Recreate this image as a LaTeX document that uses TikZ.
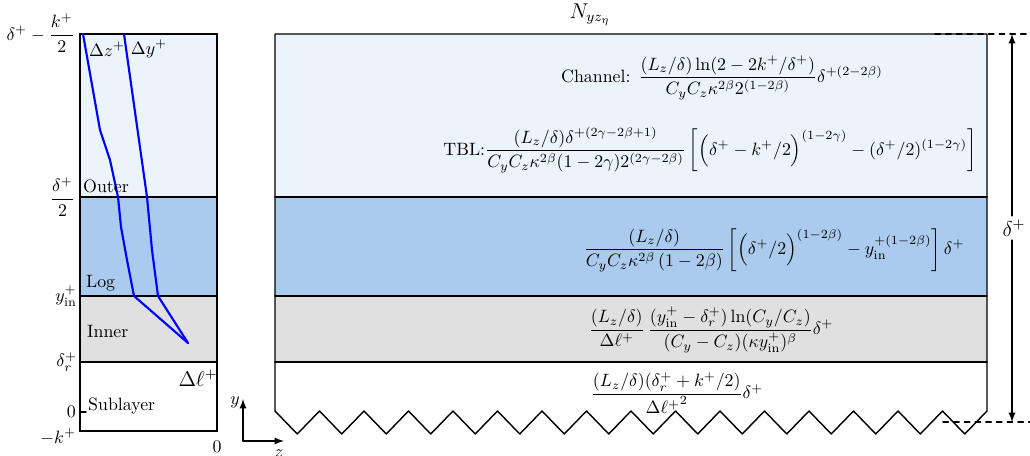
\documentclass[tikz,border=0pt]{standalone}
\usepackage{amsmath}
\begin{document}
\begin{tikzpicture}[x=0.56pt, y=-0.56pt, >=latex, line cap=round]
  \definecolor{outerblue}{HTML}{EBF3FB}
  \definecolor{logblue}{HTML}{AACBED}
  \definecolor{innergray}{HTML}{E0E0E0}
  \tikzset{region/.style={anchor=west, inner sep=1pt},
    ylabel/.style={anchor=east, inner sep=1pt},
    formula/.style={inner sep=1pt}}
  \useasboundingbox (0,0) rectangle (1030,456);
  % left panel: layers in wall units
  \fill[outerblue] (80,34) rectangle (217,197);
  \fill[logblue] (80,197) rectangle (217,296);
  \fill[innergray] (80,296) rectangle (217,362);
  \draw[thick] (80,34) rectangle (217,431);
  \foreach \y in {197,296,362} \draw[thick] (80,\y) -- (217,\y);
  \draw[thick] (80,412) -- (86,412);
  \draw[blue, very thick, line join=round] (83,34) -- (100,130) -- (110,160) -- (118,197) -- (121,227) -- (127,260) -- (134,296) -- (188,343);
  \draw[blue, very thick, line join=round] (124,34) -- (147,197) -- (152,250) -- (158,296) -- (188,343);
  \node (dz) at (107,49) {$\Delta z^+$};
  \node (dy) at (149,49) {$\Delta y^+$};
  \node[font=\large] (dl) at (198,378) {$\Delta\ell^+$};
  \node[region] (outer) at (81,186) {Outer};
  \node[region] (log) at (84,283) {Log};
  \node[region] (inner) at (85,332) {Inner};
  \node[region] (sub) at (86,406) {Sublayer};
  \node[ylabel] (ytop) at (77,33) {$\delta^+-\dfrac{k^+}{2}$};
  \node[ylabel] (yhalf) at (77,197) {$\dfrac{\delta^+}{2}$};
  \node[ylabel] (yin) at (79,296) {$y_{\mathrm{in}}^+$};
  \node[ylabel] (yr) at (79,362) {$\delta_r^+$};
  \node[ylabel] (yzero) at (78,412) {$0$};
  \node[ylabel] (ybot) at (78,437) {$-k^+$};
  \node (zzero) at (217,447) {$0$};
  % axes
  \coordinate (orig) at (243,441);
  \coordinate (yend) at (243,399);
  \coordinate (zend) at (284,441);
  \draw[->, thick] (orig) -- (yend);
  \draw[->, thick] (orig) -- (zend);
  \node (yax) at (235,402) {$y$};
  \node (zax) at (279,454) {$z$};
  % right panel: grid points per layer
  \fill[outerblue] (275,34) rectangle (987,197);
  \fill[logblue] (275,197) rectangle (987,296);
  \fill[innergray] (275,296) rectangle (987,362);
  \draw[thick, line join=round] (275,34) -- (275,411)
    \foreach \i in {0,...,15}{ -- ({275+44.5*\i+22.25},434) -- ({275+44.5*(\i+1)},411)}
    -- (987,34) -- cycle;
  \foreach \y in {197,296,362} \draw[thick] (275,\y) -- (987,\y);
  \node[font=\large] (ntitle) at (590,15) {$N_{yz_\eta}$};
  \node[formula] (fchan) at (722,78) {Channel: $\dfrac{(L_z/\delta)\ln(2-2k^+/\delta^+)}{C_yC_z\kappa^{2\beta}2^{(1-2\beta)}}\delta^{+(2-2\beta)}$};
  \node[formula] (ftbl) at (710,150) {TBL:$\dfrac{(L_z/\delta)\delta^{+(2\gamma-2\beta+1)}}{C_yC_z\kappa^{2\beta}(1-2\gamma)2^{(2\gamma-2\beta)}}\,\bigg[\Big(\delta^+-k^+/2\Big)^{(1-2\gamma)}-(\delta^+/2)^{(1-2\gamma)}\bigg]$};
  \node[formula] (flog) at (774,250) {$\dfrac{(L_z/\delta)}{C_yC_z\kappa^{2\beta}\,(1-2\beta)}\,\bigg[\Big(\delta^+/2\Big)^{(1-2\beta)}-y_{\mathrm{in}}^{+(1-2\beta)}\bigg]\,\delta^+$};
  \node[formula] (finner) at (711,330) {$\dfrac{(L_z/\delta)}{\Delta\ell^+}\,\dfrac{(y_{\mathrm{in}}^+-\delta_r^+)\ln(C_y/C_z)}{(C_y-C_z)(\kappa y_{\mathrm{in}}^+)^\beta}\delta^+$};
  \node[formula] (fsub) at (677,393) {$\dfrac{(L_z/\delta)(\delta_r^++k^+/2)}{{\Delta\ell^+}^2}\delta^+$};
  % boundary layer thickness
  \draw[dashed, thick] (935,34) -- (1030,34);
  \draw[dashed, thick] (943,422) -- (1030,422);
  \coordinate (dtop) at (1012,34);
  \coordinate (dbot) at (1012,422);
  \node[font=\large, inner sep=2pt] (dlab) at (1014,228) {$\delta^+$};
  \draw[->, thick] (dlab.north -| dtop) -- (dtop);
  \draw[->, thick] (dlab.south -| dbot) -- (dbot);
\end{tikzpicture}
\end{document}
